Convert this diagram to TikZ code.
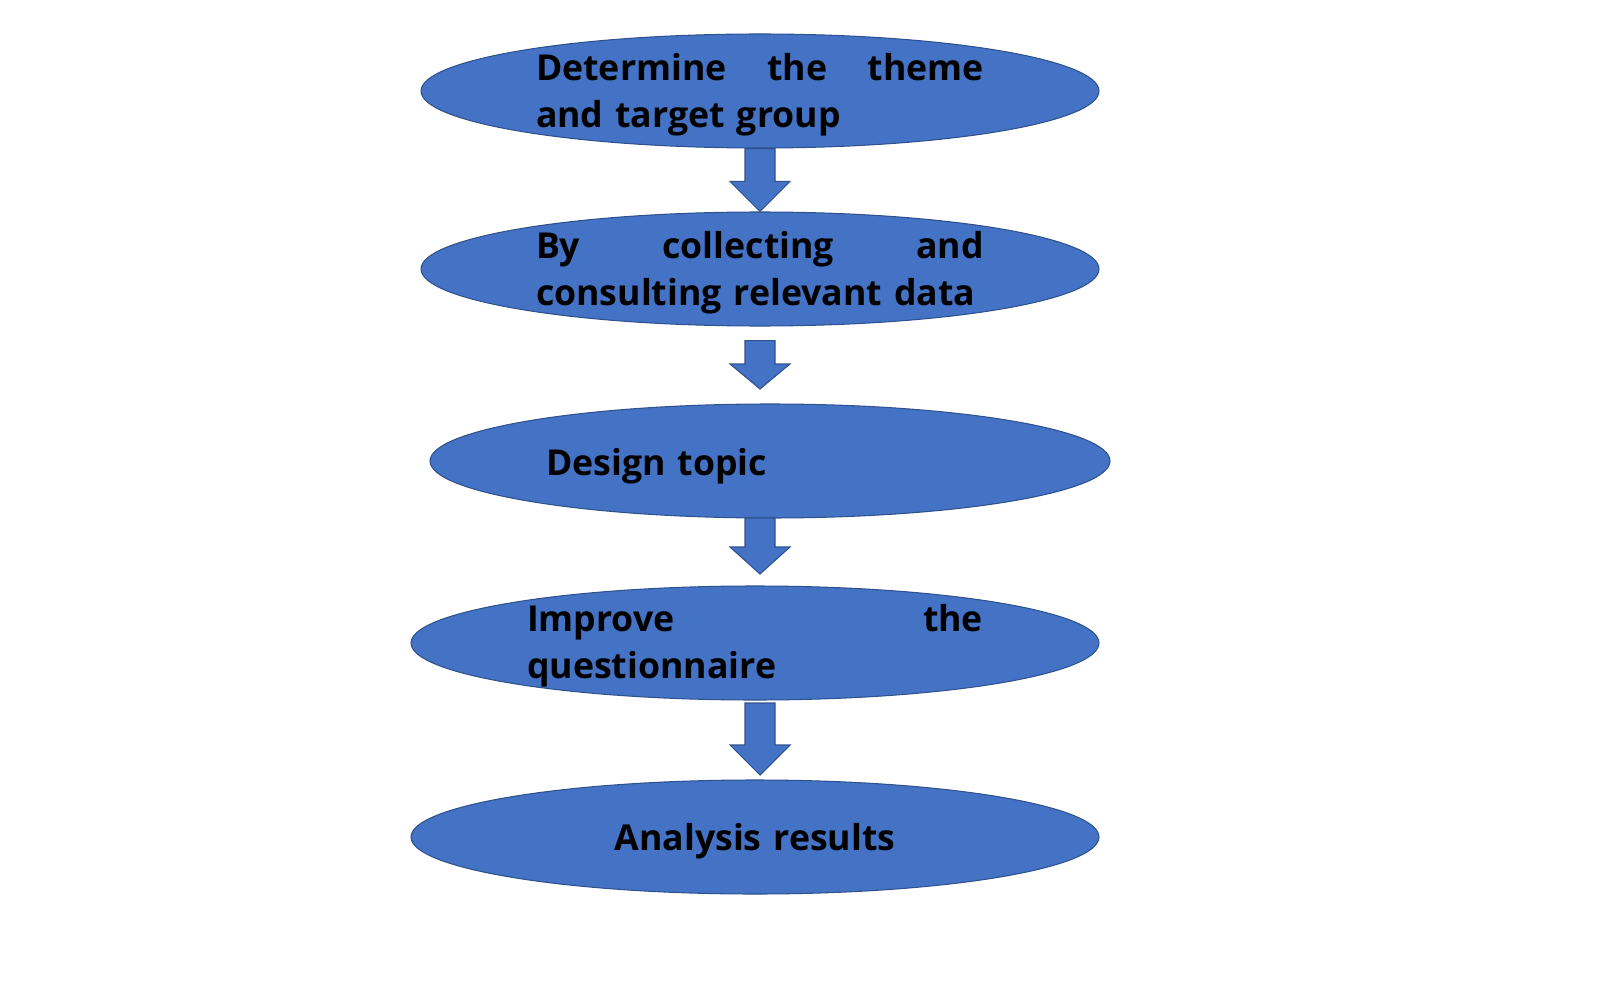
\documentclass[tikz,border=0pt]{standalone}
\usepackage{fontspec}
\setmainfont{Open Sans}
\usepackage{tikz}
\usetikzlibrary{calc}
\usetikzlibrary{shapes.geometric}
\definecolor{ovalblue}{RGB}{68,114,196}
\definecolor{ovalline}{RGB}{47,82,143}
\newcommand{\Px}[1]{#1*0.02cm}
\tikzset{
  oval/.style = {ellipse, draw=ovalline, fill=ovalblue, line width=0.6pt, inner sep=0pt},
  ovaltext/.style = {text width=#1, align=left, inner sep=0pt, font=\bfseries\fontsize{20.3}{26.5}\selectfont},
  ovaltext/.default = {\Px{448}},
  blockarrow/.style = {draw=ovalline, fill=ovalblue, line width=0.6pt, line join=miter}
}
% block arrow: top of shaft, tip, length of head
\newcommand{\Blk}[3]{\filldraw[blockarrow] ($(#1)+(-15,0)$) -- ($(#1)+(15,0)$) -- ($(#2)+(15,-#3)$) -- ($(#2)+(30,-#3)$) -- (#2) -- ($(#2)+(-30,-#3)$) -- ($(#2)+(-15,-#3)$) -- cycle;}

\begin{document}
\begin{tikzpicture}[x=0.02cm,y=-0.02cm]
\useasboundingbox (0,0) rectangle (1602,993);

%\draw[step=100,gray,very thin] (0,0) grid (1602,993);
\node[oval, minimum width=\Px{678}, minimum height=\Px{114}] (e1) at (760,91) {};
\node[oval, minimum width=\Px{678}, minimum height=\Px{114}] (e2) at (760,269) {};
\node[oval, minimum width=\Px{680}, minimum height=\Px{114}] (e3) at (770,461) {};
\node[oval, minimum width=\Px{688}, minimum height=\Px{114}] (e4) at (755,643) {};
\node[oval, minimum width=\Px{688}, minimum height=\Px{114}] (e5) at (755,837) {};

% arrows between the steps
\coordinate (t2) at ($(e2.south)+(0,14)$);
\coordinate (b2) at (760,389);
\coordinate (t3) at (760,518);
\coordinate (b3) at (760,574);
\coordinate (t4) at (760,703);
\coordinate (b4) at (760,775);
\Blk{e1.south}{e2.north}{30}
\Blk{t2}{b2}{25}
\Blk{t3}{b3}{27}
\Blk{t4}{b4}{30}

 \node[ovaltext, yshift=-0.08cm] (s1) at (e1) {Determine\hfill the\hfill theme\\and target group};
 \node[ovaltext, yshift=-0.08cm] (s2) at (e2) {By\hfill collecting\hfill and\\consulting relevant data};
 \node[ovaltext, yshift=-0.1cm] (s3) at (e3) {Design topic};
 \node[ovaltext=\Px{456}, yshift=-0.06cm] (s4) at (e4) {Improve\hfill the\\questionnaire};
 \node[ovaltext, align=center, yshift=-0.08cm] (s5) at (e5) {Analysis results};
\end{tikzpicture}
\end{document}
